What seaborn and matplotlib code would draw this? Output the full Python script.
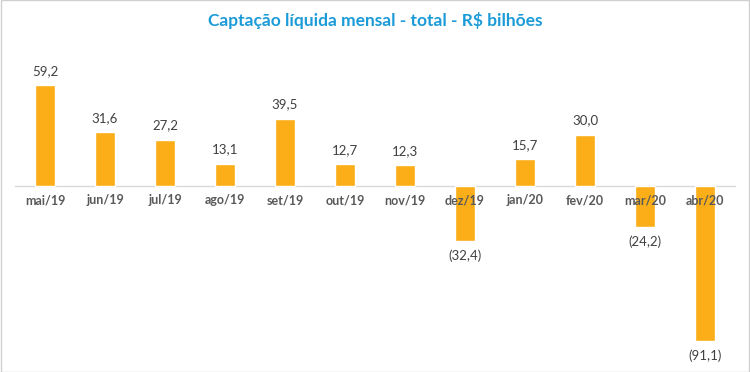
import seaborn as sns
import matplotlib.pyplot as plt
import pandas as pd
from matplotlib.patches import Rectangle

# data
meses = ['mai/19', 'jun/19', 'jul/19', 'ago/19', 'set/19', 'out/19',
         'nov/19', 'dez/19', 'jan/20', 'fev/20', 'mar/20', 'abr/20']
captacao = [59.2, 31.6, 27.2, 13.1, 39.5, 12.7, 12.3, -32.4, 15.7, 30.0, -24.2, -91.1]

df = pd.DataFrame({'mes': meses, 'valor': captacao})

sns.set_style('white')
plt.rcParams['font.family'] = ['Lato', 'DejaVu Sans']

fig = plt.figure(figsize=(7.5, 3.72), dpi=100)
ax = fig.add_axes([15 / 750, 0.0414, 720 / 750, 0.7796])

sns.barplot(data=df, x='mes', y='valor', color='#FBAE17', width=0.32,
            saturation=1, ax=ax)

ax.set_xlim(-0.5, 11.5)
ax.set_ylim(-100, 70)
ax.set_axisbelow(False)  # month labels on top of the negative bars

for s in ['top', 'right', 'left']:
    ax.spines[s].set_visible(False)
ax.spines['bottom'].set_position(('data', 0))
ax.spines['bottom'].set_color('#d9d9d9')
ax.spines['bottom'].set_linewidth(1)
ax.spines['bottom'].set_zorder(0.5)

ax.set_yticks([])
ax.set_xlabel('')
ax.set_ylabel('')
ax.tick_params(axis='x', which='major', length=0, pad=6, labelsize=9,
               labelcolor='#595959')
ax.set_xticks([i - 0.5 for i in range(13)], minor=True)
ax.tick_params(axis='x', which='minor', length=5, color='#d9d9d9', width=1,
               direction='out')
for lbl in ax.get_xticklabels():
    lbl.set_fontweight('bold')

# data labels
for i, v in enumerate(captacao):
    txt = f'{abs(v):.1f}'.replace('.', ',')
    if v >= 0:
        ax.annotate(txt, (i, v), xytext=(0, 6), textcoords='offset points',
                    ha='center', va='bottom', fontsize=9.5, color='#404040')
    else:
        ax.annotate(f'({txt})', (i, v), xytext=(0, -6), textcoords='offset points',
                    ha='center', va='top', fontsize=9.5, color='#404040')

fig.text(0.5, 0.945, 'Captação líquida mensal - total - R$ bilhões',
         ha='center', va='center', fontsize=12.5, fontweight='bold',
         color='#1B9BD7')

fig.patches.append(Rectangle((0.0007, 0.0013), 0.9986, 0.9974, transform=fig.transFigure,
                             fill=False, edgecolor='#d0d0d0', linewidth=1))

fig.savefig('out.png', dpi=100)
